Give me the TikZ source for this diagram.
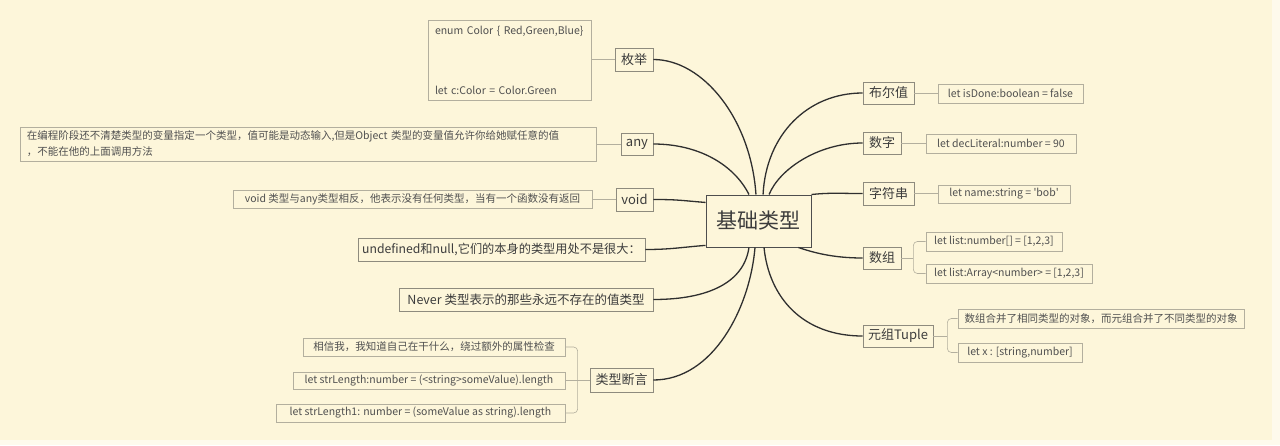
\documentclass[tikz,border=0pt]{standalone}
\usepackage{fontspec}
\setmainfont{Noto Sans CJK SC}
\usetikzlibrary{calc}
\definecolor{bg}{HTML}{FDF6DA}
\definecolor{band}{HTML}{FEFAEC}
\definecolor{mainbd}{HTML}{8E8B7E}
\definecolor{detbd}{HTML}{B3AF9E}
\definecolor{maintx}{HTML}{3C3C3C}
\definecolor{dettx}{HTML}{505050}
\definecolor{curvec}{HTML}{2F2F2F}
\tikzset{
  mainbox/.style={draw=mainbd, line width=0.7pt, fill=bg, text=maintx, font=\fontsize{13}{15}\selectfont, inner sep=0pt},
  detbox/.style={draw=detbd, line width=0.6pt, fill=bg, text=dettx, font=\fontsize{10.5}{13}\selectfont, inner sep=0pt},
  centerbox/.style={draw=curvec!85, line width=1pt, fill=bg, text=maintx, font=\fontsize{21}{24}\selectfont, inner sep=0pt},
  curve/.style={draw=curvec, line width=1.3pt},
  thinl/.style={draw=detbd, line width=0.6pt},
}
\newcommand{\bx}[7]{\node[#1, minimum width={#5-#3}, minimum height={#6-#4}] (#2) at ({(#3+#5)/2},{(#4+#6)/2}) {#7};}
\begin{document}
\begin{tikzpicture}[x=1pt,y=-1pt]
\useasboundingbox (0,0) rectangle (1280,445);
\fill[band] (0,0) rectangle (1280,445);
\fill[bg] (0,0) rectangle (1272,440);
% center
\bx{centerbox}{c}{706}{195}{811}{247}{基础类型}
% left side
\bx{mainbox}{mj}{615}{48}{653}{71}{枚举}
\bx{detbox, align=left, text width=149pt}{md}{428}{20}{591}{100}{enum Color \{ Red,Green,Blue\}\\[47pt]let c:Color = Color.Green}
\bx{mainbox}{ma}{621}{133}{653}{155}{any}
\bx{detbox, align=left, text width=562pt, font=\fontsize{10.5}{16}\selectfont}{mad}{20}{127}{596}{161}{在编程阶段还不清楚类型的变量指定一个类型，值可能是动态输入,但是Object 类型的变量值允许你给她赋任意的值\\，不能在他的上面调用方法}
\bx{mainbox}{mv}{616}{188}{653}{211}{void}
\bx{detbox}{mvd}{233}{190}{592}{208}{void 类型与any类型相反，他表示没有任何类型，当有一个函数没有返回}
\bx{mainbox, font=\fontsize{12.2}{14}\selectfont}{mu}{358}{238}{645}{261}{undefined和null,它们的本身的类型用处不是很大：}
\bx{mainbox, font=\fontsize{12.5}{14}\selectfont}{mn}{399}{288}{653}{311}{Never 类型表示的那些永远不存在的值类型}
\bx{mainbox}{mt}{590}{368}{653}{392}{类型断言}
\bx{detbox}{t1}{303}{338}{565}{356}{相信我，我知道自己在干什么，绕过额外的属性检查}
\bx{detbox}{t2}{293}{372}{565}{389}{let strLength:number = (<string>someValue).length}
\bx{detbox}{t3}{276}{404}{565}{422}{let strLength1: number = (someValue as string).length}
% right side
\bx{mainbox}{rb}{863}{82}{914}{104}{布尔值}
\bx{detbox}{rbd}{938}{84}{1083}{103}{let isDone:boolean = false}
\bx{mainbox}{rs}{863}{132}{901}{154}{数字}
\bx{detbox}{rsd}{926}{134}{1076}{153}{let decLiteral:number = 90}
\bx{mainbox}{rz}{863}{182}{914}{205}{字符串}
\bx{detbox}{rzd}{938}{185}{1070}{203}{let name:string = \textquotesingle bob\textquotesingle}
\bx{mainbox}{ra}{863}{247}{901}{269}{数组}
\bx{detbox}{ra1}{926}{232}{1062}{251}{let list:number[] = [1,2,3]}
\bx{detbox}{ra2}{926}{264}{1092}{283}{let list:Array<number> = [1,2,3]}
\bx{mainbox}{rt}{863}{325}{933}{347}{元组Tuple}
\bx{detbox}{rt1}{958}{309}{1244}{328}{数组合并了相同类型的对象，而元组合并了不同类型的对象}
\bx{detbox}{rt2}{958}{343}{1082}{362}{let x : [string,number]}
% bracket coordinates
\coordinate (bt) at ($(mt.west)+(-12,0)$);
\coordinate (ba) at ($(ra.east)+(12,0)$);
\coordinate (br) at ($(rt.east)+(14,0)$);
% thin connectors
\draw[thinl] (md.east |- mj.west) -- (mj.west);
\draw[thinl] (mad.east |- ma.west) -- (ma.west);
\draw[thinl] (mvd.east |- mv.west) -- (mv.west);
\draw[thinl] (rb.east) -- (rbd.west |- rb.east);
\draw[thinl] (rs.east) -- (rsd.west |- rs.east);
\draw[thinl] (rz.east) -- (rzd.west |- rz.east);
\draw[thinl] (mt.west) -- (bt);
\draw[thinl, rounded corners=4pt] (t1.east) -| (bt);
\draw[thinl] (t2.east) -- (t2.east -| bt);
\draw[thinl, rounded corners=4pt] (t3.east) -| (bt);
\draw[thinl] (ra.east) -- (ba);
\draw[thinl, rounded corners=4pt] (ra1.west) -| (ba);
\draw[thinl, rounded corners=4pt] (ra2.west) -| (ba);
\draw[thinl] (rt.east) -- (br);
\draw[thinl, rounded corners=4pt] (rt1.west) -| (br);
\draw[thinl, rounded corners=4pt] (rt2.west) -| (br);
% curves
\draw[curve] (mj.east) .. controls +(50,0) and +(-5,-75) .. ($(c.north west)!0.476!(c.north east)$);
\draw[curve] (ma.east) .. controls +(45,0) and +(-15,-30) .. ($(c.north west)!0.41!(c.north east)$);
\draw[curve] (mv.east) .. controls +(25,0) and +(-25,-2) .. ($(c.north west)!0.15!(c.south west)$);
\draw[curve] (mu.east) .. controls +(25,0) and +(-25,2) .. ($(c.north west)!0.96!(c.south west)$);
\draw[curve] (mn.east) .. controls +(55,0) and +(-5,35) .. ($(c.south west)!0.41!(c.south east)$);
\draw[curve] (mt.east) .. controls +(60,0) and +(-5,60) .. ($(c.south west)!0.467!(c.south east)$);
\draw[curve] (rb.west) .. controls +(-55,0) and +(3,-60) .. ($(c.north west)!0.543!(c.north east)$);
\draw[curve] (rs.west) .. controls +(-45,0) and +(10,-25) .. ($(c.north west)!0.6!(c.north east)$);
\draw[curve] (rz.west) .. controls +(-25,0) and +(20,-2) .. (c.north east);
\draw[curve] (ra.west) .. controls +(-30,0) and +(15,5) .. ($(c.south west)!0.876!(c.south east)$);
\draw[curve] (rt.west) .. controls +(-60,0) and +(5,50) .. ($(c.south west)!0.552!(c.south east)$);
\end{tikzpicture}
\end{document}
